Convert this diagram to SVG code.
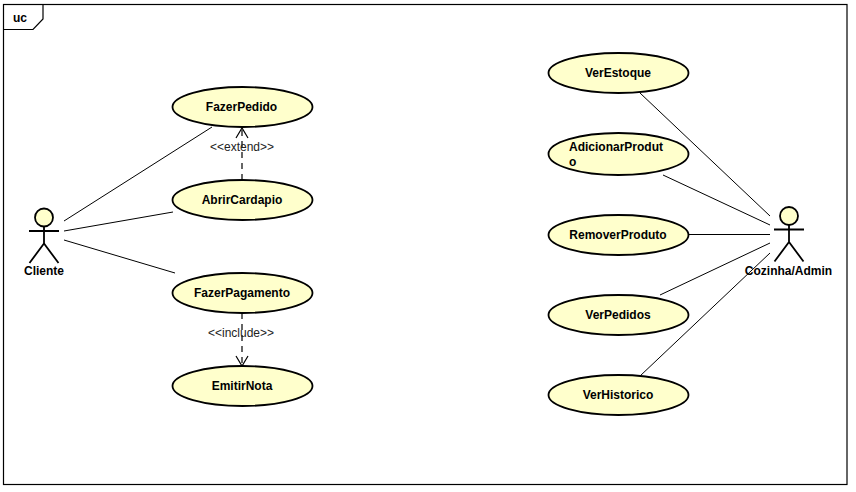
<svg xmlns="http://www.w3.org/2000/svg" width="856" height="492" viewBox="0 0 856 492">
<style>
text{font-family:"Liberation Sans",Arial,sans-serif;fill:#000;text-anchor:middle}
.n{font-size:12px;font-weight:bold}
.s{font-size:12px;fill:#222}
.uc{fill:#ffffcc;stroke:#000;stroke-width:1.8}
.a{fill:none;stroke:#000;stroke-width:1.8}
.l{fill:none;stroke:#000;stroke-width:1}
.d{fill:none;stroke:#000;stroke-width:1.2;stroke-dasharray:6 5}
</style>
<defs>
<marker id="open" markerUnits="userSpaceOnUse" markerWidth="14" markerHeight="14" refX="11" refY="7" orient="auto"><path d="M1 1 L11 7 L1 13" fill="none" stroke="#000" stroke-width="1.2"/></marker>
<g id="actor"><circle class="uc" cx="0" cy="0" r="9"/><path class="a" d="M0 9V26M-15 13.500H15M-14.500 45.500L0 26L14.500 45.500"/></g>
</defs>
<rect width="856" height="492" fill="#fff"/>
<g id="frame"><rect x="3.500" y="4.500" width="843.500" height="480" fill="none" stroke="#000" stroke-width="1.2"/>
<path d="M3.500 29.500H33L43 19V4.500" fill="none" stroke="#000" stroke-width="1.2"/><text x="20" y="22" class="n">uc</text></g>
<g id="connectors">
<path class="l" d="M64 221L212 127M64 231L173 212M64 240L175 273M640 93L770 216M663 175L770 225M689 234.500H770M660 295L770 243M640 376L770 253"/>
<path class="d" d="M242 180V128" marker-end="url(#open)"/>
<path class="d" d="M242 313V366" marker-end="url(#open)"/>
<text x="242" y="151" class="s">&lt;&lt;extend&gt;&gt;</text>
<text x="241" y="337" class="s">&lt;&lt;include&gt;&gt;</text>
</g>
<g id="cliente"><use href="#actor" x="44" y="217.500"/><text x="44" y="275" class="n">Cliente</text></g>
<g id="cozinha"><use href="#actor" x="789" y="216"/><text x="788.500" y="275" class="n">Cozinha/Admin</text></g>
<g id="fazerpedido"><ellipse class="uc" cx="242.500" cy="107" rx="70" ry="20"/><text x="241.500" y="111" class="n">FazerPedido</text></g>
<g id="abrircardapio"><ellipse class="uc" cx="242.500" cy="200" rx="70" ry="20"/><text x="242" y="204" class="n">AbrirCardapio</text></g>
<g id="fazerpagamento"><ellipse class="uc" cx="242.500" cy="293" rx="70" ry="20"/><text x="242" y="297" class="n">FazerPagamento</text></g>
<g id="emitirnota"><ellipse class="uc" cx="242.500" cy="386" rx="70" ry="20"/><text x="242" y="390" class="n">EmitirNota</text></g>
<g id="verestoque"><ellipse class="uc" cx="618.500" cy="73" rx="70" ry="20"/><text x="618" y="77" class="n">VerEstoque</text></g>
<g id="adicionarproduto"><ellipse class="uc" cx="618.500" cy="154" rx="70" ry="21"/><text x="569" y="151" class="n" style="text-anchor:start">AdicionarProdut</text><text x="569" y="166" class="n" style="text-anchor:start">o</text></g>
<g id="removerproduto"><ellipse class="uc" cx="618.500" cy="235" rx="70" ry="20"/><text x="618" y="239" class="n">RemoverProduto</text></g>
<g id="verpedidos"><ellipse class="uc" cx="618.500" cy="315" rx="70" ry="20"/><text x="618" y="319" class="n">VerPedidos</text></g>
<g id="verhistorico"><ellipse class="uc" cx="618.500" cy="395" rx="70" ry="20"/><text x="618" y="399" class="n">VerHistorico</text></g>
</svg>
